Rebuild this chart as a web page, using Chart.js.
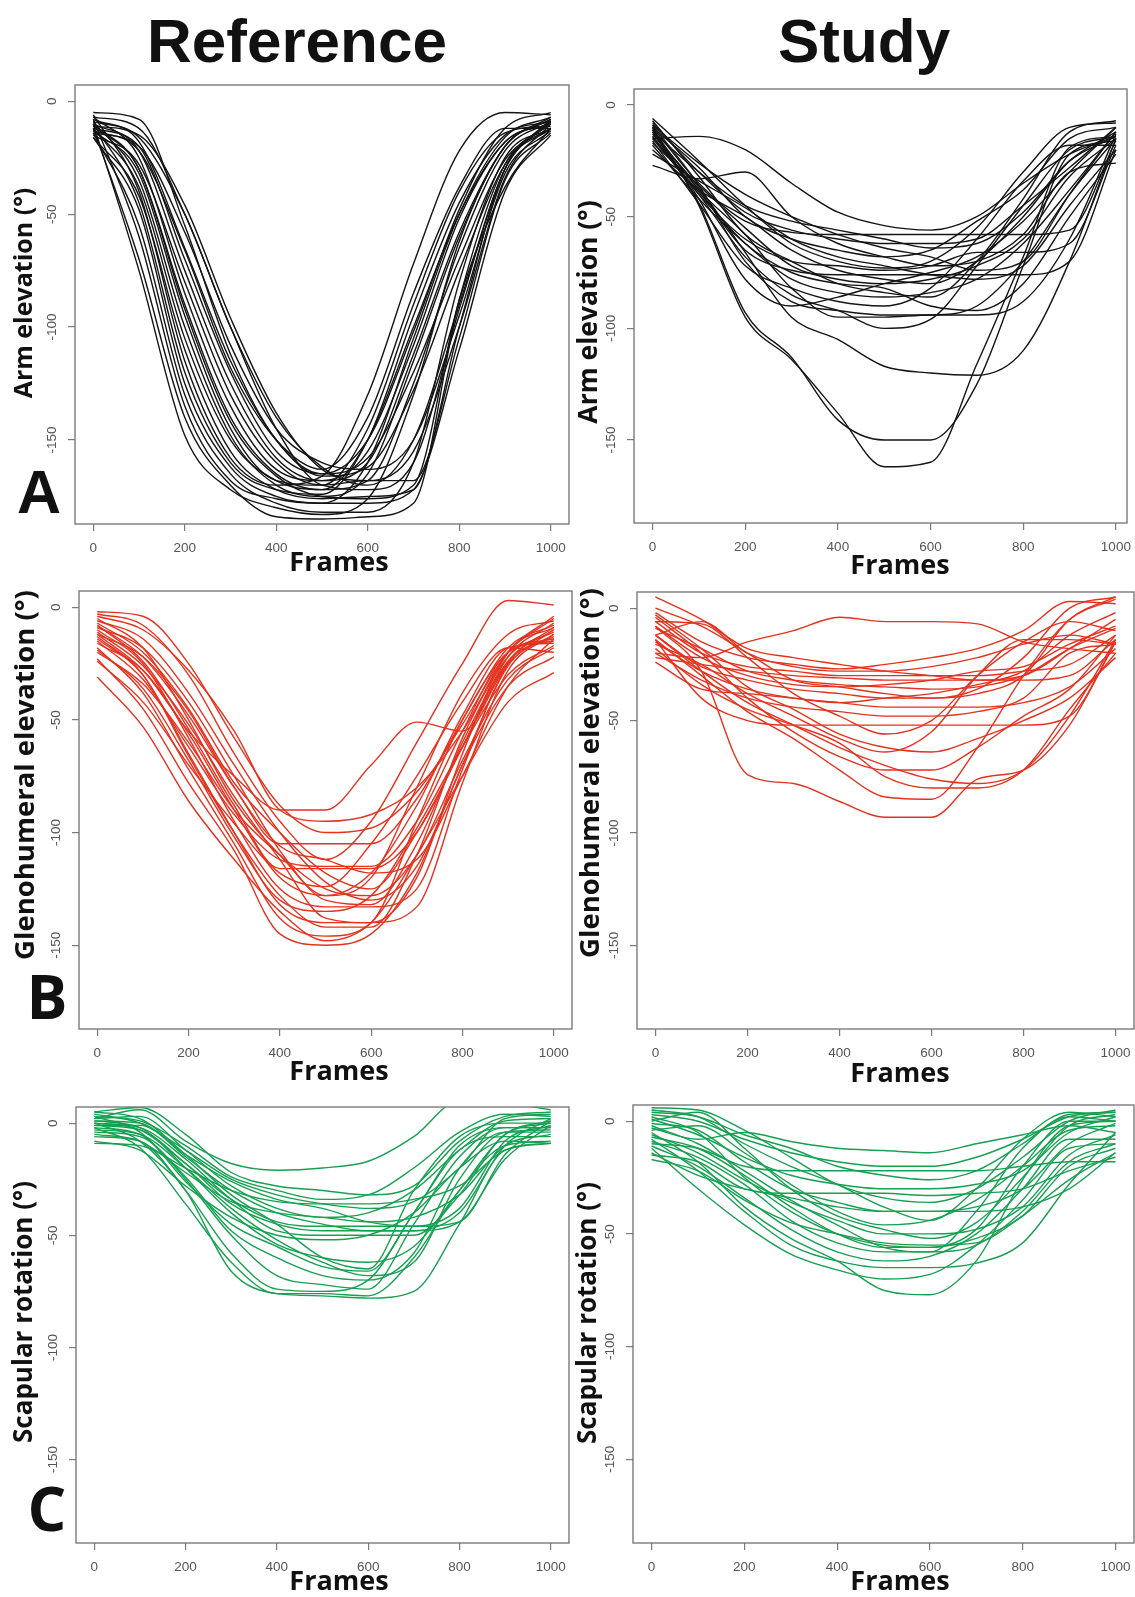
<!DOCTYPE html>
<html>
<head>
<meta charset="utf-8">
<title>Arm, glenohumeral and scapular angles</title>
<script src="https://cdn.jsdelivr.net/npm/chart.js@4.4.1/dist/chart.umd.min.js"></script>
<style>
  html, body { margin: 0; padding: 0; background: #fff; overflow: hidden; }
  #page { position: relative; width: 1135px; height: 1597px; overflow: hidden; background: #fff; }
  #page canvas { position: absolute; }
</style>
</head>
<body>
<div id="page"></div>
<script>
// sample frames and axis ticks shared by all six panels
const FRAMES = [0, 100, 200, 300, 400, 500, 600, 700, 800, 900, 1000];
const X_TICKS = [0, 200, 400, 600, 800, 1000];
const Y_TICKS = [0, -50, -100, -150];

// A - arm elevation, reference group (degrees at each frame)
const armReference = [
    [-10, -75, -148, -172, -180, -183, -176, -130, -62, -20, -8],
    [-12, -70, -140, -170, -184, -185, -184, -178, -88, -28, -10],
    [-8, -60, -135, -168, -176, -178, -160, -105, -50, -16, -7],
    [-14, -55, -130, -165, -178, -182, -182, -160, -80, -25, -12],
    [-10, -45, -120, -160, -172, -174, -150, -95, -45, -15, -9],
    [-6, -40, -115, -158, -170, -166, -130, -72, -22, -5, -6],
    [-16, -42, -110, -155, -172, -176, -175, -172, -100, -30, -12],
    [-12, -38, -105, -150, -168, -172, -150, -100, -50, -18, -10],
    [-9, -35, -100, -148, -170, -175, -165, -115, -60, -20, -8],
    [-13, -32, -95, -145, -168, -170, -145, -90, -40, -14, -11],
    [-11, -30, -90, -140, -165, -172, -168, -125, -65, -22, -9],
    [-7, -25, -85, -135, -163, -168, -160, -112, -58, -20, -7],
    [-15, -28, -80, -130, -160, -170, -168, -168, -105, -35, -14],
    [-10, -22, -75, -125, -158, -168, -155, -108, -52, -18, -10],
    [-12, -20, -70, -120, -155, -165, -158, -120, -70, -26, -12],
    [-8, -18, -65, -115, -150, -166, -162, -128, -75, -28, -9],
    [-14, -20, -58, -108, -145, -160, -163, -150, -95, -32, -13],
    [-9, -16, -50, -100, -140, -162, -170, -150, -90, -30, -9],
    [-11, -15, -46, -96, -138, -163, -168, -155, -100, -34, -10],
    [-7, -12, -50, -100, -145, -170, -172, -160, -92, -30, -8],
    [-13, -22, -66, -118, -150, -163, -140, -85, -38, -12, -12],
    [-10, -30, -92, -142, -166, -175, -176, -170, -88, -38, -12],
    [-16, -48, -125, -162, -175, -178, -178, -172, -110, -40, -15],
    [-5, -8, -55, -112, -150, -165, -150, -102, -48, -12, -5]
];

// A - arm elevation, study group
const armStudy = [
    [-10, -45, -95, -114, -138, -162, -160, -116, -68, -19, -14],
    [-12, -44, -93, -113, -141, -150, -150, -125, -72, -22, -16],
    [-15, -14, -20, -35, -48, -54, -56, -50, -35, -22, -14],
    [-27, -33, -30, -50, -62, -68, -72, -70, -58, -30, -26],
    [-10, -35, -52, -57, -58, -58, -58, -58, -58, -56, -16],
    [-8, -30, -48, -56, -60, -62, -62, -60, -45, -28, -10],
    [-14, -40, -60, -70, -72, -74, -72, -66, -66, -62, -18],
    [-12, -38, -65, -74, -76, -76, -76, -76, -76, -70, -20],
    [-18, -42, -62, -78, -84, -86, -84, -78, -62, -38, -12],
    [-9, -36, -70, -88, -92, -94, -94, -90, -70, -40, -15],
    [-15, -40, -68, -85, -92, -100, -96, -72, -45, -20, -14],
    [-11, -38, -58, -82, -95, -95, -94, -94, -88, -60, -13],
    [-13, -37, -66, -95, -105, -117, -120, -121, -110, -70, -15],
    [-6, -25, -45, -62, -70, -73, -70, -55, -30, -10, -8],
    [-10, -28, -50, -60, -65, -68, -65, -52, -38, -15, -10],
    [-20, -38, -50, -65, -74, -78, -80, -70, -50, -25, -12],
    [-12, -30, -45, -52, -56, -60, -64, -62, -48, -25, -14],
    [-7, -32, -58, -70, -80, -84, -86, -70, -42, -12, -7],
    [-16, -44, -72, -82, -88, -90, -82, -60, -34, -18, -18],
    [-22, -34, -46, -60, -68, -72, -76, -78, -72, -45, -20],
    [-9, -26, -40, -50, -58, -64, -68, -74, -70, -40, -12],
    [-14, -39, -62, -75, -80, -82, -90, -92, -80, -50, -22],
    [-11, -42, -78, -90, -86, -80, -75, -68, -52, -30, -10],
    [-17, -36, -55, -72, -78, -80, -78, -72, -60, -32, -15]
];

// B - glenohumeral elevation, reference group
const ghReference = [
    [-31, -53, -86, -112, -135, -148, -140, -110, -75, -42, -29],
    [-23, -45, -78, -108, -145, -150, -145, -118, -70, -35, -22],
    [-18, -38, -72, -105, -138, -146, -140, -95, -50, -20, -14],
    [-14, -30, -65, -100, -132, -140, -140, -133, -78, -28, -12],
    [-10, -25, -58, -95, -125, -133, -133, -125, -72, -25, -10],
    [-5, -18, -50, -86, -110, -128, -120, -80, -38, -12, -6],
    [-12, -28, -55, -75, -90, -90, -70, -51, -55, -25, -10],
    [-8, -22, -48, -80, -105, -105, -105, -85, -50, -18, -8],
    [-15, -32, -62, -92, -112, -115, -115, -95, -55, -20, -15],
    [-3, -8, -30, -65, -95, -112, -95, -60, -25, 3, 1],
    [-7, -20, -45, -78, -100, -118, -125, -100, -62, -22, -7],
    [-2, -4, -25, -58, -88, -100, -98, -82, -52, -20, -5],
    [-20, -34, -60, -90, -110, -125, -128, -110, -68, -32, -18],
    [-11, -26, -52, -84, -112, -138, -140, -120, -65, -20, -9],
    [-6, -14, -38, -70, -100, -122, -130, -115, -70, -26, -12],
    [-4, -10, -28, -55, -90, -95, -92, -80, -55, -20, -4],
    [-16, -28, -56, -90, -120, -128, -118, -88, -48, -18, -16],
    [-9, -18, -42, -75, -108, -130, -132, -105, -60, -24, -13],
    [-13, -30, -66, -100, -128, -142, -142, -110, -58, -22, -11],
    [-24, -42, -70, -96, -118, -124, -105, -75, -42, -18, -20],
    [-19, -36, -68, -102, -130, -135, -128, -98, -62, -30, -17],
    [-8, -24, -54, -88, -116, -116, -116, -100, -62, -24, -9],
    [-12, -22, -46, -80, -106, -112, -118, -112, -75, -35, -14]
];

// B - glenohumeral elevation, study group
const ghStudy = [
    [-8, -28, -74, -78, -86, -93, -93, -76, -72, -52, -15],
    [-14, -30, -46, -58, -72, -84, -85, -62, -30, -5, 4],
    [-12, -28, -42, -52, -62, -70, -76, -78, -72, -48, -14],
    [-16, -25, -38, -48, -58, -64, -55, -30, -14, -14, -16],
    [-4, -20, -40, -55, -66, -72, -72, -62, -48, -36, -12],
    [-20, -22, -15, -10, -4, -6, -6, -7, -15, -18, -20],
    [-14, -40, -50, -52, -52, -52, -52, -52, -52, -48, -15],
    [-6, -7, -22, -38, -48, -56, -50, -30, -15, -6, -10],
    [0, -8, -20, -32, -35, -38, -40, -38, -30, -5, 5],
    [5, -5, -18, -22, -25, -28, -30, -32, -30, -18, -5],
    [-2, -15, -22, -25, -27, -25, -22, -18, -10, 3, 2],
    [-22, -25, -28, -30, -31, -32, -32, -32, -32, -30, -14],
    [-12, -6, -20, -26, -28, -28, -26, -22, -16, -12, -16],
    [-15, -28, -36, -40, -42, -44, -44, -44, -42, -35, -18],
    [-8, -22, -30, -34, -35, -34, -32, -28, -26, -16, -8],
    [-20, -32, -40, -44, -46, -48, -48, -46, -40, -20, -16],
    [-3, -18, -35, -45, -56, -62, -64, -58, -50, -40, -22],
    [-18, -34, -45, -52, -60, -75, -80, -80, -72, -45, -20],
    [-24, -36, -38, -40, -42, -40, -38, -34, -28, -12, -2],
    [-9, -18, -28, -32, -34, -35, -36, -35, -30, -18, -9],
    [-12, -26, -32, -36, -38, -40, -40, -36, -22, 0, 5],
    [-6, -20, -26, -28, -30, -30, -30, -30, -28, -25, -12]
];

// C - scapular rotation, reference group
const scapReference = [
    [-2, -11, -36, -62, -76, -76, -77, -60, -30, -10, -8],
    [0, -8, -30, -66, -76, -77, -78, -75, -45, -12, -9],
    [3, -4, -25, -50, -68, -72, -74, -45, -15, -2, -2],
    [-8, -12, -28, -42, -50, -52, -50, -40, -20, -8, -9],
    [5, 2, -14, -32, -45, -60, -65, -30, -6, 0, 0],
    [-3, -5, -20, -38, -52, -62, -68, -62, -25, -4, -3],
    [2, 6, -8, -18, -21, -20, -17, -6, 10, 9, 6],
    [1, 0, -15, -30, -40, -45, -48, -48, -40, -10, 2],
    [-1, -3, -18, -36, -45, -48, -48, -48, -44, -16, -1],
    [4, 0, -12, -25, -32, -36, -38, -35, -20, 2, 4],
    [-5, -8, -22, -35, -40, -42, -44, -42, -32, -10, -5],
    [2, 3, -12, -28, -38, -42, -40, -30, -12, 1, 2],
    [0, -2, -16, -34, -48, -50, -50, -50, -32, -5, 0],
    [-9, -10, -20, -30, -35, -36, -36, -34, -28, -12, -9],
    [5, 7, -5, -22, -28, -30, -32, -28, -8, 3, 5],
    [-2, -5, -26, -45, -55, -64, -66, -40, -10, -2, -2],
    [1, -2, -20, -40, -54, -60, -62, -55, -30, -5, 1],
    [-4, -6, -24, -48, -60, -68, -70, -58, -20, -4, -4],
    [3, 1, -10, -24, -30, -34, -32, -20, -4, 4, 3],
    [-1, -1, -14, -26, -34, -38, -44, -46, -38, -8, -1],
    [0, -3, -18, -34, -44, -46, -46, -46, -44, -14, 1],
    [-6, -8, -30, -58, -74, -75, -70, -40, -12, -6, -6]
];

// C - scapular rotation, study group
const scapStudy = [
    [-12, -30, -46, -59, -66, -70, -68, -55, -35, -12, -10],
    [-5, -18, -38, -52, -62, -75, -77, -62, -26, -2, 0],
    [-8, -22, -40, -55, -62, -65, -65, -63, -54, -28, -5],
    [-3, -8, -5, -9, -12, -13, -14, -10, -6, -2, -5],
    [5, 2, -10, -20, -28, -38, -44, -30, -8, 4, 2],
    [2, -5, -25, -40, -50, -55, -56, -48, -20, 0, 0],
    [-10, -12, -20, -22, -22, -22, -22, -22, -20, -18, -18],
    [-15, -18, -30, -32, -32, -32, -33, -32, -30, -22, -16],
    [0, 4, -12, -30, -42, -48, -52, -45, -25, -2, 3],
    [-6, -14, -26, -36, -44, -50, -50, -48, -38, -15, -6],
    [3, 0, -8, -14, -18, -20, -20, -16, -8, 2, 4],
    [-2, -10, -22, -35, -46, -56, -58, -40, -12, 2, 0],
    [-17, -22, -35, -45, -50, -54, -55, -54, -42, -26, -14],
    [1, -6, -16, -24, -28, -30, -30, -28, -22, -5, 2],
    [-4, -2, -14, -28, -40, -46, -44, -35, -20, -4, -2],
    [-9, -16, -28, -44, -54, -58, -58, -55, -40, -18, -10],
    [4, 2, -6, -12, -20, -24, -26, -22, -10, 3, 4],
    [-11, -20, -34, -48, -58, -62, -60, -50, -30, -8, -8],
    [-1, -4, -18, -30, -36, -40, -40, -38, -30, -10, -1],
    [-14, -24, -30, -34, -38, -40, -40, -40, -38, -30, -14],
    [6, 5, -4, -16, -28, -34, -36, -30, -16, 0, 5],
    [-7, -12, -24, -38, -50, -56, -56, -52, -42, -20, -12]
];

const BLACK = '#141414';
const RED = '#e4321f';
const GREEN = '#17a052';
const AXIS_GREY = '#7b7b7b';
const TICK_TEXT = '#555555';
const LABEL_FONT = '"Open Sans", "DejaVu Sans", sans-serif';
const TICK_FONT = '"Liberation Sans", Arial, sans-serif';

// page layout of the six panels: box = [left, top, right, bottom] of the plot frame
const panels = [
    { series: armReference, color: BLACK, width: 1.4, box: [75, 85, 569, 524], xMax: 1040,
      title: 'Reference', titleAt: [297, 62], ylabel: 'Arm elevation (°)', ylabelSize: 25, ylabelAt: [25, 293],
      letter: 'A', letterFont: TICK_FONT, letterAt: [39, 513], framesAt: [339, 571] },
    { series: armStudy, color: BLACK, width: 1.4, box: [634, 89, 1127, 523], xMax: 1024,
      title: 'Study', titleAt: [864, 62], ylabel: 'Arm elevation (°)', ylabelSize: 26.5, ylabelAt: [589, 312],
      framesAt: [900, 574] },
    { series: ghReference, color: RED, width: 1.4, box: [79, 591, 572, 1029], xMax: 1040,
      ylabel: 'Glenohumeral elevation (°)', ylabelSize: 27.5, ylabelAt: [26, 775],
      letter: 'B', letterFont: LABEL_FONT, letterAt: [47, 1019], framesAt: [339, 1080] },
    { series: ghStudy, color: RED, width: 1.4, box: [637, 592, 1134, 1029], xMax: 1040,
      ylabel: 'Glenohumeral elevation (°)', ylabelSize: 27.5, ylabelAt: [591, 773],
      framesAt: [900, 1082] },
    { series: scapReference, color: GREEN, width: 1.4, box: [76, 1107, 569, 1543], xMax: 1040,
      ylabel: 'Scapular rotation (°)', ylabelSize: 26, ylabelAt: [25, 1312],
      letter: 'C', letterFont: LABEL_FONT, letterAt: [47, 1531], framesAt: [339, 1590] },
    { series: scapStudy, color: GREEN, width: 1.4, box: [633, 1105, 1134, 1543], xMax: 1040,
      ylabel: 'Scapular rotation (°)', ylabelSize: 26, ylabelAt: [589, 1313],
      framesAt: [900, 1590] }
];

const PAD_LEFT = 75;
const PAD_RIGHT = 20;
const PAD_BOTTOM = 56;

// frame, rotated y tick labels and the captions of each panel
function decorPlugin(panel, offsetX, offsetY) {
    return {
        id: 'decor',
        afterDraw(chart) {
            const ctx = chart.ctx;
            const area = chart.chartArea;
            const yScale = chart.scales.y;

            ctx.save();
            ctx.strokeStyle = AXIS_GREY;
            ctx.lineWidth = 1.4;
            ctx.strokeRect(area.left, area.top, area.right - area.left, area.bottom - area.top);

            ctx.fillStyle = TICK_TEXT;
            ctx.font = '13.5px ' + TICK_FONT;
            ctx.textAlign = 'center';
            ctx.textBaseline = 'middle';
            yScale.ticks.forEach(tick => {
                ctx.save();
                ctx.translate(area.left - 23, yScale.getPixelForValue(tick.value));
                ctx.rotate(-Math.PI / 2);
                ctx.fillText(String(tick.value), 0, 0);
                ctx.restore();
            });

            // captions are placed in page coordinates
            ctx.translate(-offsetX, -offsetY);
            ctx.fillStyle = '#111';

            ctx.save();
            ctx.translate(panel.ylabelAt[0], panel.ylabelAt[1]);
            ctx.rotate(-Math.PI / 2);
            ctx.font = 'bold ' + panel.ylabelSize + 'px ' + LABEL_FONT;
            ctx.textAlign = 'center';
            ctx.textBaseline = 'middle';
            ctx.fillText(panel.ylabel, 0, 0);
            ctx.restore();

            ctx.textAlign = 'center';
            ctx.textBaseline = 'alphabetic';
            ctx.font = 'bold 27px ' + LABEL_FONT;
            ctx.fillText('Frames', panel.framesAt[0], panel.framesAt[1]);

            if (panel.letter) {
                ctx.font = 'bold 61px ' + panel.letterFont;
                ctx.fillText(panel.letter, panel.letterAt[0], panel.letterAt[1]);
            }
            if (panel.title) {
                ctx.font = 'bold 62px ' + TICK_FONT;
                ctx.fillText(panel.title, panel.titleAt[0], panel.titleAt[1]);
            }
            ctx.restore();
        }
    };
}

function buildPanel(panel) {
    const [left, top, right, bottom] = panel.box;
    const padTop = panel.title ? top : 14;
    const offsetX = left - PAD_LEFT;
    const offsetY = top - padTop;

    const canvas = document.createElement('canvas');
    canvas.width = (right - left) + PAD_LEFT + PAD_RIGHT;
    canvas.height = (bottom - top) + padTop + PAD_BOTTOM;
    canvas.style.left = offsetX + 'px';
    canvas.style.top = offsetY + 'px';
    document.getElementById('page').appendChild(canvas);

    const datasets = panel.series.map(curve => ({
        data: FRAMES.map((frame, i) => ({ x: frame, y: curve[i] })),
        borderColor: panel.color,
        borderWidth: panel.width,
        pointRadius: 0,
        fill: false,
        cubicInterpolationMode: 'monotone'
    }));

    const axisGrid = {
        display: true,
        drawOnChartArea: false,
        drawTicks: true,
        tickLength: 7,
        color: AXIS_GREY,
        lineWidth: 1.2
    };

    return new Chart(canvas.getContext('2d'), {
        type: 'line',
        data: { datasets },
        options: {
            responsive: false,
            animation: false,
            devicePixelRatio: 1,
            events: [],
            layout: { padding: { left: 0, top: padTop, right: PAD_RIGHT, bottom: 0 } },
            plugins: {
                legend: { display: false },
                tooltip: { enabled: false }
            },
            scales: {
                x: {
                    type: 'linear',
                    min: -40,
                    max: panel.xMax,
                    afterBuildTicks: scale => { scale.ticks = X_TICKS.map(v => ({ value: v })); },
                    afterFit: scale => { scale.height = PAD_BOTTOM; },
                    grid: axisGrid,
                    border: { display: false },
                    ticks: {
                        autoSkip: false,
                        maxRotation: 0,
                        padding: 9,
                        color: TICK_TEXT,
                        font: { family: TICK_FONT, size: 13.5 },
                        callback: value => String(value)
                    }
                },
                y: {
                    type: 'linear',
                    min: -187.2,
                    max: 7.2,
                    afterBuildTicks: scale => { scale.ticks = Y_TICKS.map(v => ({ value: v })); },
                    afterFit: scale => { scale.width = PAD_LEFT; },
                    grid: axisGrid,
                    border: { display: false },
                    ticks: { display: false }
                }
            }
        },
        plugins: [decorPlugin(panel, offsetX, offsetY)]
    });
}

panels.forEach(buildPanel);
</script>
</body>
</html>
